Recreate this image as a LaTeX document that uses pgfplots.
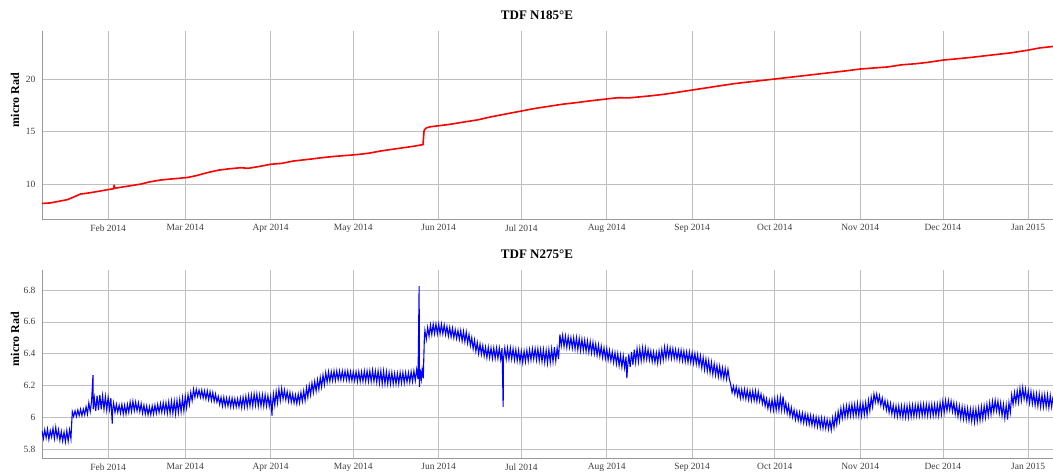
\documentclass[border=0pt]{standalone}
\usepackage{fontspec}
\setmainfont{Liberation Serif}
\usepackage{pgfplots}
\usepackage{pgfplotstable}
\pgfplotsset{compat=1.18}

\pgfplotstableread[row sep=\\]{
x y\\
7 8.15\\ 10 8.2\\ 13 8.35\\ 16 8.5\\ 18 8.7\\ 21 9.05\\ 24 9.15\\ 27 9.28\\ 31 9.47\\ 33 9.55\\ 33.2 9.9\\ 33.4 9.6\\
37 9.75\\ 40 9.87\\ 43 10.0\\ 46 10.2\\ 50 10.38\\ 53 10.46\\ 57 10.55\\ 60 10.63\\ 63 10.8\\ 67 11.08\\ 71 11.32\\
75 11.45\\ 79 11.55\\ 82 11.5\\ 86 11.68\\ 90 11.88\\ 94 11.97\\ 98 12.18\\ 102 12.3\\ 106 12.42\\ 110 12.55\\
114 12.65\\ 118 12.73\\ 122 12.82\\ 126 12.95\\ 130 13.15\\ 134 13.3\\ 138 13.45\\ 142 13.6\\ 145.3 13.75\\
145.7 15.1\\ 146.5 15.35\\ 148 15.45\\ 151 15.55\\ 155 15.68\\ 160 15.9\\ 165 16.1\\ 170 16.4\\ 175 16.65\\
181 16.95\\ 186 17.2\\ 191 17.4\\ 196 17.6\\ 201 17.75\\ 206 17.92\\ 212 18.1\\ 216 18.22\\ 220 18.2\\ 224 18.3\\
228 18.4\\ 233 18.55\\ 238 18.75\\ 243 18.95\\ 248 19.15\\ 253 19.35\\ 258 19.55\\ 263 19.7\\ 268 19.85\\
273 20.0\\ 278 20.15\\ 283 20.3\\ 288 20.45\\ 293 20.6\\ 298 20.75\\ 304 20.95\\ 309 21.05\\ 314 21.15\\
319 21.35\\ 324 21.45\\ 329 21.6\\ 334 21.8\\ 339 21.92\\ 344 22.05\\ 349 22.2\\ 354 22.35\\ 359 22.5\\
365 22.75\\ 369 22.95\\ 374 23.1\\
}\redtab

\pgfplotstableread[row sep=\\]{
x y\\
7 5.915\\ 7.5 5.865\\ 8 5.92\\ 8.5 5.87\\ 9 5.925\\ 9.5 5.86\\ 10 5.915\\ 10.5 5.875\\ 11 5.93\\ 11.5 5.865\\
12 5.935\\ 12.5 5.87\\ 13 5.92\\ 13.5 5.855\\ 14 5.91\\ 14.5 5.85\\ 15 5.905\\ 15.5 5.845\\ 16 5.915\\ 16.5 5.85\\
17 5.92\\ 17.5 5.865\\ 18 6.035\\ 18.5 6.005\\ 19 6.04\\ 19.5 6.005\\ 20 6.045\\ 20.5 6.01\\ 21 6.05\\ 21.5 6.01\\
22 6.05\\ 22.5 6.015\\ 23 6.065\\ 23.5 6.02\\ 24 6.09\\ 24.5 6.035\\ 25 6.10\\ 25.5 6.264\\ 25.6 6.05\\
26 6.12\\ 26.5 6.04\\ 27 6.135\\ 27.5 6.045\\ 28 6.14\\ 28.5 6.05\\ 29 6.135\\ 29.5 6.05\\ 30 6.13\\ 30.5 6.045\\
31 6.125\\ 31.5 6.05\\ 32 6.12\\ 32.5 5.96\\ 32.6 6.04\\ 33 6.09\\ 33.5 6.03\\ 34 6.08\\ 34.5 6.03\\
35 6.075\\ 35.5 6.025\\ 36 6.08\\ 36.5 6.02\\ 37 6.075\\ 37.5 6.02\\ 38 6.08\\ 38.5 6.03\\ 39 6.095\\ 39.5 6.035\\
40 6.10\\ 40.5 6.04\\ 41 6.095\\ 41.5 6.04\\ 42 6.09\\ 42.5 6.035\\ 43 6.085\\ 43.5 6.025\\ 44 6.075\\ 44.5 6.02\\
45 6.07\\ 45.5 6.015\\ 46 6.065\\ 46.5 6.015\\ 47 6.07\\ 47.5 6.02\\ 48 6.075\\ 48.5 6.025\\ 49 6.08\\ 49.5 6.03\\
50 6.085\\ 50.5 6.03\\ 51 6.09\\ 51.5 6.03\\ 52 6.09\\ 52.5 6.025\\ 53 6.095\\ 53.5 6.025\\ 54 6.10\\ 54.5 6.025\\
55 6.10\\ 55.5 6.02\\ 56 6.105\\ 56.5 6.03\\ 57 6.11\\ 57.5 6.035\\ 58 6.12\\ 58.5 6.04\\ 59 6.13\\ 59.5 6.06\\
60 6.14\\ 60.5 6.08\\ 61 6.155\\ 61.5 6.105\\ 62 6.175\\ 62.5 6.125\\ 63 6.175\\ 63.5 6.13\\ 64 6.17\\ 64.5 6.125\\
65 6.17\\ 65.5 6.12\\ 66 6.165\\ 66.5 6.115\\ 67 6.165\\ 67.5 6.11\\ 68 6.16\\ 68.5 6.105\\ 69 6.155\\ 69.5 6.10\\
70 6.145\\ 70.5 6.095\\ 71 6.13\\ 71.5 6.08\\ 72 6.125\\ 72.5 6.07\\ 73 6.125\\ 73.5 6.07\\ 74 6.12\\ 74.5 6.07\\
75 6.12\\ 75.5 6.065\\ 76 6.12\\ 76.5 6.065\\ 77 6.115\\ 77.5 6.065\\ 78 6.115\\ 78.5 6.065\\ 79 6.12\\ 79.5 6.06\\
80 6.125\\ 80.5 6.065\\ 81 6.13\\ 81.5 6.065\\ 82 6.135\\ 82.5 6.07\\ 83 6.14\\ 83.5 6.07\\ 84 6.145\\ 84.5 6.075\\
85 6.145\\ 85.5 6.07\\ 86 6.14\\ 86.5 6.07\\ 87 6.14\\ 87.5 6.07\\ 88 6.14\\ 88.5 6.07\\ 89 6.135\\ 89.5 6.07\\
90 6.13\\ 90.5 6.01\\ 90.6 6.065\\ 91 6.145\\ 91.5 6.075\\ 92 6.16\\ 92.5 6.09\\ 93 6.175\\ 93.5 6.105\\
94 6.18\\ 94.5 6.115\\ 95 6.17\\ 95.5 6.11\\ 96 6.16\\ 96.5 6.10\\ 97 6.155\\ 97.5 6.095\\ 98 6.145\\ 98.5 6.09\\
99 6.14\\ 99.5 6.085\\ 100 6.145\\ 100.5 6.09\\ 101 6.155\\ 101.5 6.10\\ 102 6.165\\ 102.5 6.105\\ 103 6.185\\ 103.5 6.125\\
104 6.20\\ 104.5 6.14\\ 105 6.215\\ 105.5 6.155\\ 106 6.225\\ 106.5 6.165\\ 107 6.235\\ 107.5 6.175\\ 108 6.25\\ 108.5 6.19\\
109 6.265\\ 109.5 6.205\\ 110 6.28\\ 110.5 6.22\\ 111 6.285\\ 111.5 6.225\\ 112 6.285\\ 112.5 6.23\\ 113 6.29\\ 113.5 6.23\\
114 6.29\\ 114.5 6.235\\ 115 6.29\\ 115.5 6.235\\ 116 6.29\\ 116.5 6.235\\ 117 6.29\\ 117.5 6.235\\ 118 6.29\\ 118.5 6.23\\
119 6.285\\ 119.5 6.23\\ 120 6.285\\ 120.5 6.23\\ 121 6.285\\ 121.5 6.225\\ 122 6.285\\ 122.5 6.225\\ 123 6.285\\ 123.5 6.225\\
124 6.29\\ 124.5 6.225\\ 125 6.29\\ 125.5 6.225\\ 126 6.29\\ 126.5 6.225\\ 127 6.295\\ 127.5 6.225\\ 128 6.29\\ 128.5 6.22\\
129 6.29\\ 129.5 6.215\\ 130 6.29\\ 130.5 6.21\\ 131 6.29\\ 131.5 6.21\\ 132 6.285\\ 132.5 6.21\\ 133 6.28\\ 133.5 6.21\\
134 6.28\\ 134.5 6.21\\ 135 6.275\\ 135.5 6.21\\ 136 6.275\\ 136.5 6.21\\ 137 6.28\\ 137.5 6.215\\ 138 6.28\\ 138.5 6.215\\
139 6.28\\ 139.5 6.22\\ 140 6.28\\ 140.5 6.22\\ 141 6.285\\ 141.5 6.225\\ 142 6.29\\ 142.5 6.23\\ 143 6.30\\ 143.5 6.24\\
143.9 6.824\\ 144 6.19\\ 144.3 6.30\\ 144.7 6.24\\ 145 6.30\\ 145.4 6.245\\ 145.8 6.50\\ 146 6.545\\ 146.5 6.49\\
147 6.565\\ 147.5 6.51\\ 148 6.58\\ 148.5 6.52\\ 149 6.585\\ 149.5 6.525\\ 150 6.585\\ 150.5 6.525\\ 151 6.585\\ 151.5 6.525\\
152 6.585\\ 152.5 6.525\\ 153 6.58\\ 153.5 6.52\\ 154 6.57\\ 154.5 6.51\\ 155 6.565\\ 155.5 6.505\\ 156 6.56\\ 156.5 6.50\\
157 6.55\\ 157.5 6.495\\ 158 6.545\\ 158.5 6.49\\ 159 6.545\\ 159.5 6.48\\ 160 6.54\\ 160.5 6.475\\ 161 6.535\\ 161.5 6.465\\
162 6.52\\ 162.5 6.45\\ 163 6.50\\ 163.5 6.43\\ 164 6.485\\ 164.5 6.415\\ 165 6.47\\ 165.5 6.40\\ 166 6.46\\ 166.5 6.395\\
167 6.45\\ 167.5 6.385\\ 168 6.44\\ 168.5 6.375\\ 169 6.44\\ 169.5 6.375\\ 170 6.435\\ 170.5 6.37\\ 171 6.435\\ 171.5 6.37\\
172 6.435\\ 172.5 6.37\\ 173 6.435\\ 173.5 6.365\\ 174 6.435\\ 174.4 6.065\\ 174.5 6.365\\ 175 6.435\\ 175.5 6.365\\
176 6.435\\ 176.5 6.365\\ 177 6.435\\ 177.5 6.365\\ 178 6.43\\ 178.5 6.36\\ 179 6.425\\ 179.5 6.355\\ 180 6.42\\ 180.5 6.35\\
181 6.415\\ 181.5 6.345\\ 182 6.415\\ 182.5 6.35\\ 183 6.42\\ 183.5 6.355\\ 184 6.425\\ 184.5 6.36\\ 185 6.43\\ 185.5 6.365\\
186 6.43\\ 186.5 6.36\\ 187 6.43\\ 187.5 6.355\\ 188 6.425\\ 188.5 6.35\\ 189 6.425\\ 189.5 6.345\\ 190 6.42\\ 190.5 6.34\\
191 6.425\\ 191.5 6.345\\ 192 6.43\\ 192.5 6.35\\ 193 6.44\\ 193.5 6.355\\ 194 6.435\\ 194.5 6.365\\ 195 6.52\\ 195.5 6.45\\
196 6.515\\ 196.5 6.445\\ 197 6.51\\ 197.5 6.44\\ 198 6.505\\ 198.5 6.44\\ 199 6.50\\ 199.5 6.435\\ 200 6.50\\ 200.5 6.43\\
201 6.50\\ 201.5 6.425\\ 202 6.495\\ 202.5 6.42\\ 203 6.49\\ 203.5 6.42\\ 204 6.485\\ 204.5 6.415\\ 205 6.48\\ 205.5 6.41\\
206 6.475\\ 206.5 6.405\\ 207 6.47\\ 207.5 6.40\\ 208 6.46\\ 208.5 6.39\\ 209 6.455\\ 209.5 6.385\\ 210 6.445\\ 210.5 6.375\\
211 6.435\\ 211.5 6.37\\ 212 6.43\\ 212.5 6.36\\ 213 6.42\\ 213.5 6.355\\ 214 6.41\\ 214.5 6.345\\ 215 6.405\\ 215.5 6.335\\
216 6.40\\ 216.5 6.325\\ 217 6.39\\ 217.5 6.315\\ 218 6.385\\ 218.5 6.31\\ 219 6.38\\ 219.3 6.245\\ 219.5 6.30\\
220 6.395\\ 220.5 6.315\\ 221 6.41\\ 221.5 6.33\\ 222 6.425\\ 222.5 6.345\\ 223 6.43\\ 223.5 6.35\\ 224 6.43\\ 224.5 6.355\\
225 6.435\\ 225.5 6.36\\ 226 6.435\\ 226.5 6.365\\ 227 6.425\\ 227.5 6.36\\ 228 6.415\\ 228.5 6.35\\ 229 6.41\\ 229.5 6.345\\
230 6.405\\ 230.5 6.34\\ 231 6.415\\ 231.5 6.35\\ 232 6.425\\ 232.5 6.36\\ 233 6.44\\ 233.5 6.37\\ 234 6.44\\ 234.5 6.375\\
235 6.435\\ 235.5 6.37\\ 236 6.43\\ 236.5 6.37\\ 237 6.425\\ 237.5 6.365\\ 238 6.42\\ 238.5 6.36\\ 239 6.42\\ 239.5 6.355\\
240 6.415\\ 240.5 6.35\\ 241 6.41\\ 241.5 6.345\\ 242 6.41\\ 242.5 6.345\\ 243 6.405\\ 243.5 6.34\\ 244 6.40\\ 244.5 6.335\\
245 6.395\\ 245.5 6.325\\ 246 6.385\\ 246.5 6.31\\ 247 6.375\\ 247.5 6.30\\ 248 6.365\\ 248.5 6.29\\ 249 6.355\\ 249.5 6.28\\
250 6.345\\ 250.5 6.27\\ 251 6.335\\ 251.5 6.265\\ 252 6.325\\ 252.5 6.255\\ 253 6.32\\ 253.5 6.25\\ 254 6.31\\ 254.5 6.245\\
255 6.305\\ 255.5 6.24\\ 256 6.30\\ 256.5 6.24\\ 257 6.205\\ 257.5 6.155\\ 258 6.195\\ 258.5 6.145\\ 259 6.19\\ 259.5 6.135\\
260 6.18\\ 260.5 6.12\\ 261 6.175\\ 261.5 6.12\\ 262 6.175\\ 262.5 6.115\\ 263 6.17\\ 263.5 6.11\\ 264 6.165\\ 264.5 6.105\\
265 6.165\\ 265.5 6.105\\ 266 6.165\\ 266.5 6.10\\ 267 6.16\\ 267.5 6.10\\ 268 6.145\\ 268.5 6.085\\ 269 6.13\\ 269.5 6.07\\
270 6.115\\ 270.5 6.055\\ 271 6.105\\ 271.5 6.045\\ 272 6.11\\ 272.5 6.045\\ 273 6.115\\ 273.5 6.045\\ 274 6.12\\ 274.5 6.045\\
275 6.125\\ 275.5 6.045\\ 276 6.13\\ 276.5 6.04\\ 277 6.09\\ 277.5 6.025\\ 278 6.075\\ 278.5 6.01\\ 279 6.06\\ 279.5 6.00\\
280 6.045\\ 280.5 5.985\\ 281 6.035\\ 281.5 5.98\\ 282 6.03\\ 282.5 5.97\\ 283 6.025\\ 283.5 5.965\\ 284 6.02\\ 284.5 5.96\\
285 6.015\\ 285.5 5.955\\ 286 6.01\\ 286.5 5.95\\ 287 6.005\\ 287.5 5.945\\ 288 6.00\\ 288.5 5.94\\ 289 5.995\\ 289.5 5.935\\
290 5.995\\ 290.5 5.93\\ 291 5.99\\ 291.5 5.93\\ 292 5.985\\ 292.5 5.925\\ 293 5.98\\ 293.5 5.92\\ 294 5.995\\ 294.5 5.935\\
295 6.015\\ 295.5 5.955\\ 296 6.035\\ 296.5 5.975\\ 297 6.055\\ 297.5 5.995\\ 298 6.065\\ 298.5 6.00\\ 299 6.07\\ 299.5 6.005\\
300 6.075\\ 300.5 6.01\\ 301 6.08\\ 301.5 6.01\\ 302 6.08\\ 302.5 6.01\\ 303 6.085\\ 303.5 6.01\\ 304 6.085\\ 304.5 6.01\\
305 6.085\\ 305.5 6.015\\ 306 6.09\\ 306.5 6.015\\ 307 6.105\\ 307.5 6.04\\ 308 6.125\\ 308.5 6.065\\ 309 6.145\\ 309.5 6.095\\
310 6.145\\ 310.5 6.09\\ 311 6.135\\ 311.5 6.075\\ 312 6.12\\ 312.5 6.06\\ 313 6.105\\ 313.5 6.045\\ 314 6.095\\ 314.5 6.03\\
315 6.085\\ 315.5 6.02\\ 316 6.075\\ 316.5 6.01\\ 317 6.07\\ 317.5 6.005\\ 318 6.07\\ 318.5 6.005\\ 319 6.07\\ 319.5 6.00\\
320 6.07\\ 320.5 6.00\\ 321 6.07\\ 321.5 6.00\\ 322 6.075\\ 322.5 6.005\\ 323 6.075\\ 323.5 6.005\\ 324 6.075\\ 324.5 6.01\\
325 6.08\\ 325.5 6.01\\ 326 6.08\\ 326.5 6.01\\ 327 6.08\\ 327.5 6.01\\ 328 6.08\\ 328.5 6.01\\ 329 6.08\\ 329.5 6.01\\
330 6.08\\ 330.5 6.01\\ 331 6.08\\ 331.5 6.01\\ 332 6.08\\ 332.5 6.01\\ 333 6.09\\ 333.5 6.02\\ 334 6.10\\ 334.5 6.03\\
335 6.105\\ 335.5 6.04\\ 336 6.105\\ 336.5 6.045\\ 337 6.10\\ 337.5 6.035\\ 338 6.09\\ 338.5 6.02\\ 339 6.08\\ 339.5 6.005\\
340 6.07\\ 340.5 5.995\\ 341 6.065\\ 341.5 5.99\\ 342 6.06\\ 342.5 5.985\\ 343 6.055\\ 343.5 5.98\\ 344 6.05\\ 344.5 5.975\\
345 6.05\\ 345.5 5.97\\ 346 6.05\\ 346.5 5.975\\ 347 6.055\\ 347.5 5.98\\ 348 6.065\\ 348.5 5.99\\ 349 6.07\\ 349.5 6.00\\
350 6.08\\ 350.5 6.01\\ 351 6.09\\ 351.5 6.02\\ 352 6.10\\ 352.5 6.035\\ 353 6.105\\ 353.5 6.04\\ 354 6.10\\ 354.5 6.025\\
355 6.09\\ 355.5 6.01\\ 356 6.08\\ 356.5 5.995\\ 357 6.075\\ 357.5 5.985\\ 358 6.09\\ 358.5 6.03\\ 359 6.14\\ 359.5 6.08\\
360 6.155\\ 360.5 6.09\\ 361 6.165\\ 361.5 6.095\\ 362 6.18\\ 362.5 6.105\\ 363 6.185\\ 363.5 6.115\\ 364 6.175\\ 364.5 6.10\\
365 6.165\\ 365.5 6.09\\ 366 6.16\\ 366.5 6.085\\ 367 6.15\\ 367.5 6.075\\ 368 6.145\\ 368.5 6.07\\ 369 6.145\\ 369.5 6.065\\
370 6.14\\ 370.5 6.065\\ 371 6.14\\ 371.5 6.065\\ 372 6.14\\ 372.5 6.06\\ 373 6.135\\ 373.5 6.065\\ 374 6.13\\
}\bluetab

\pgfplotsset{
  tdf/.style={
    scale only axis,
    width=1011pt, height=188pt,
    xmin=7, xmax=374,
    axis lines=left,
    axis line style={-, draw=black!40, line width=0.8pt},
    xtick={31,59,90,120,151,181,212,243,273,304,334,365},
    xticklabels={Feb 2014,Mar 2014,Apr 2014,May 2014,Jun 2014,Jul 2014,Aug 2014,Sep 2014,Oct 2014,Nov 2014,Dec 2014,Jan 2015},
    grid=major,
    major grid style={draw=black!25, line width=0.6pt},
    major tick length=0pt,
    tick style={draw=none},
    /pgf/number format/assume math mode=true,
    ticklabel style={font=\fontsize{9.5}{11}\selectfont, text=black!75},
    xticklabel style={yshift=-2pt},
    yticklabel style={xshift=-3pt},
    title style={font=\bfseries\fontsize{13}{15}\selectfont, at={(axis description cs:0.4896,1.053)}, anchor=center},
    ylabel style={font=\bfseries\fontsize{12}{14}\selectfont, at={(axis description cs:-0.0267,0.633)}, anchor=center},
    ylabel={micro Rad},
    clip=true,
  }
}

\begin{document}
\begin{tikzpicture}
\useasboundingbox (0,0) rectangle (1053pt,475pt);
\begin{axis}[tdf, at={(42pt,256pt)}, anchor=south west,
  ymin=6.67, ymax=24.57, ytick={10,15,20},
  title={TDF N185°E}]
\addplot[red, line width=1.6pt, line join=round] table[x=x,y=y]{\redtab};
\end{axis}
\begin{axis}[tdf, at={(42pt,17pt)}, anchor=south west,
  ymin=5.743, ymax=6.926, ytick={5.8,6,6.2,6.4,6.6,6.8},
  title={TDF N275°E}]
\addplot[blue, line width=1.1pt, line join=miter] table[x=x,y=y]{\bluetab};
\end{axis}
\end{tikzpicture}
\end{document}
